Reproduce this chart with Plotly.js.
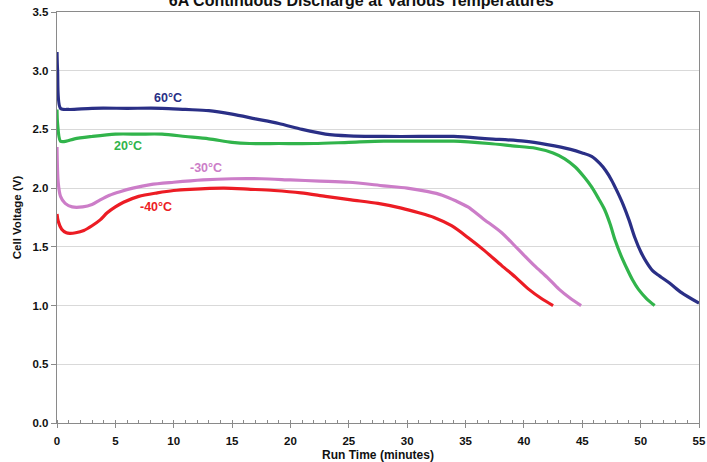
<!DOCTYPE html>
<html>
<head>
<meta charset="utf-8">
<script src="https://cdn.plot.ly/plotly-3.0.1.min.js"></script>
<style>html,body{margin:0;padding:0;background:#fff;}#chart{width:707px;height:462px;}</style>
</head>
<body>
<div id="chart"></div>
<script>
// 60°C
const t60 = [0, 0.05, 0.3, 1, 3, 6, 9, 11, 13, 15, 17, 19, 21, 23, 25, 28, 31, 34, 37, 40, 42, 44, 45, 45.8, 46.5, 47, 47.5, 48, 48.5, 49, 49.5, 50, 50.5, 51, 51.5, 52.5, 53.5, 55];
const v60 = [3.16, 3.0, 2.68, 2.67, 2.68, 2.68, 2.68, 2.67, 2.66, 2.63, 2.59, 2.55, 2.50, 2.46, 2.445, 2.44, 2.44, 2.44, 2.42, 2.40, 2.37, 2.33, 2.30, 2.27, 2.21, 2.15, 2.07, 1.97, 1.86, 1.73, 1.58, 1.46, 1.37, 1.30, 1.26, 1.19, 1.11, 1.02];
// 20°C
const t20 = [0, 0.05, 0.3, 0.8, 1.5, 3, 5, 7, 9, 11, 13, 15, 16.5, 19, 22, 25, 28, 31, 34, 37, 39, 41, 42.5, 43.5, 44.4, 45.2, 45.8, 46.4, 46.9, 47.4, 47.8, 48.3, 48.8, 49.3, 49.8, 50.5, 51.2];
const v20 = [2.67, 2.55, 2.40, 2.40, 2.42, 2.44, 2.46, 2.46, 2.46, 2.44, 2.42, 2.39, 2.38, 2.38, 2.38, 2.39, 2.40, 2.40, 2.40, 2.38, 2.36, 2.34, 2.30, 2.25, 2.18, 2.09, 2.01, 1.91, 1.82, 1.69, 1.56, 1.43, 1.32, 1.22, 1.14, 1.06, 1.00];
// -30°C
const tm30 = [0, 0.1, 0.3, 0.7, 1.3, 2.2, 3, 3.7, 4.5, 5.4, 6.5, 8, 10, 12.5, 15, 17.5, 20, 22.5, 25, 28, 30, 31.8, 33, 34.2, 35.2, 36.5, 38.1, 39.5, 40.9, 42, 43, 44, 44.9];
const vm30 = [2.35, 2.05, 1.93, 1.87, 1.84, 1.84, 1.86, 1.90, 1.94, 1.97, 2.00, 2.03, 2.05, 2.07, 2.08, 2.08, 2.07, 2.06, 2.05, 2.02, 2.00, 1.97, 1.94, 1.89, 1.84, 1.74, 1.62, 1.48, 1.34, 1.24, 1.14, 1.06, 1.00];
// -40°C
const tm40 = [0, 0.1, 0.4, 0.8, 1.1, 1.6, 2.3, 3, 3.7, 4.3, 5, 5.7, 7, 8.6, 10, 11.4, 14.3, 16.6, 18.6, 20.9, 23, 25.2, 27.5, 29.5, 31, 32.3, 33.8, 35.2, 36.6, 38.1, 39.3, 40.4, 41.5, 42.5];
const vm40 = [1.78, 1.72, 1.65, 1.62, 1.615, 1.62, 1.64, 1.68, 1.73, 1.79, 1.84, 1.88, 1.93, 1.96, 1.98, 1.99, 2.00, 1.99, 1.98, 1.96, 1.93, 1.90, 1.87, 1.83, 1.79, 1.75, 1.68, 1.58, 1.47, 1.34, 1.24, 1.14, 1.06, 1.00];

const seriesNames = ['60°C', '20°C', '-30°C', '-40°C'];
const seriesColors = ['#2a2f86', '#31b44b', '#cc7dc8', '#ec1c24'];
const labelX = [9.5, 6.1, 12.8, 8.5];
const labelY = [2.77, 2.36, 2.17, 1.84];
const xTicks = [0, 5, 10, 15, 20, 25, 30, 35, 40, 45, 50, 55];
const yTicks = [0.0, 0.5, 1.0, 1.5, 2.0, 2.5, 3.0, 3.5];

const xs = [t60, t20, tm30, tm40];
const ys = [v60, v20, vm30, vm40];
const font = 'Liberation Sans, Arial, sans-serif';

const traces = xs.map((x, i) => ({
  x: x, y: ys[i], type: 'scatter', mode: 'lines', name: seriesNames[i],
  line: {color: seriesColors[i], width: 3.2, shape: 'spline', smoothing: 0.8}, hoverinfo: 'skip'
}));

const annotations = seriesNames.map((n, i) => ({
  x: labelX[i], y: labelY[i], xref: 'x', yref: 'y', text: '<b>' + n + '</b>',
  showarrow: false, font: {family: font, size: 12.5, color: seriesColors[i]}
}));

const layout = {
  width: 707, height: 462,
  margin: {l: 57.3, r: 7.7, t: 12.3, b: 38.7},
  paper_bgcolor: '#fff', plot_bgcolor: '#fff',
  showlegend: false,
  title: {text: '<b>6A Continuous Discharge at Various Temperatures</b>', x: 0.511, xref: 'container', xanchor: 'center', y: 1, yref: 'container', yanchor: 'middle', font: {family: font, size: 16, color: '#111'}},
  xaxis: {
    range: [0, 55], tickvals: xTicks, ticktext: xTicks.map(String),
    showline: true, linecolor: '#8a8a8a', linewidth: 1.3, mirror: true,
    showgrid: false, zeroline: false,
    ticks: 'outside', ticklen: 4, tickcolor: '#8a8a8a', ticklabelstandoff: 3,
    minor: {dtick: 1, ticks: 'inside', ticklen: 3, tickcolor: '#8a8a8a', showgrid: false},
    tickfont: {family: font, size: 11.5, color: '#111', weight: 'bold'},
    title: {text: '<b>Run Time (minutes)</b>', font: {family: font, size: 12, color: '#111'}, standoff: 7}
  },
  yaxis: {
    range: [0, 3.5], tickvals: yTicks, ticktext: yTicks.map(v => v.toFixed(1)),
    showline: true, linecolor: '#8a8a8a', linewidth: 1.3, mirror: true,
    showgrid: true, gridcolor: '#d9d9d9', gridwidth: 1, zeroline: false,
    ticks: 'outside', ticklen: 5, tickcolor: '#8a8a8a',
    tickfont: {family: font, size: 11.5, color: '#111', weight: 'bold'},
    title: {text: '<b>Cell Voltage (V)</b>', font: {family: font, size: 11.5, color: '#111'}, standoff: 8}
  },
  annotations: annotations
};

Plotly.newPlot('chart', traces, layout, {displayModeBar: false, staticPlot: true});
</script>
</body>
</html>
